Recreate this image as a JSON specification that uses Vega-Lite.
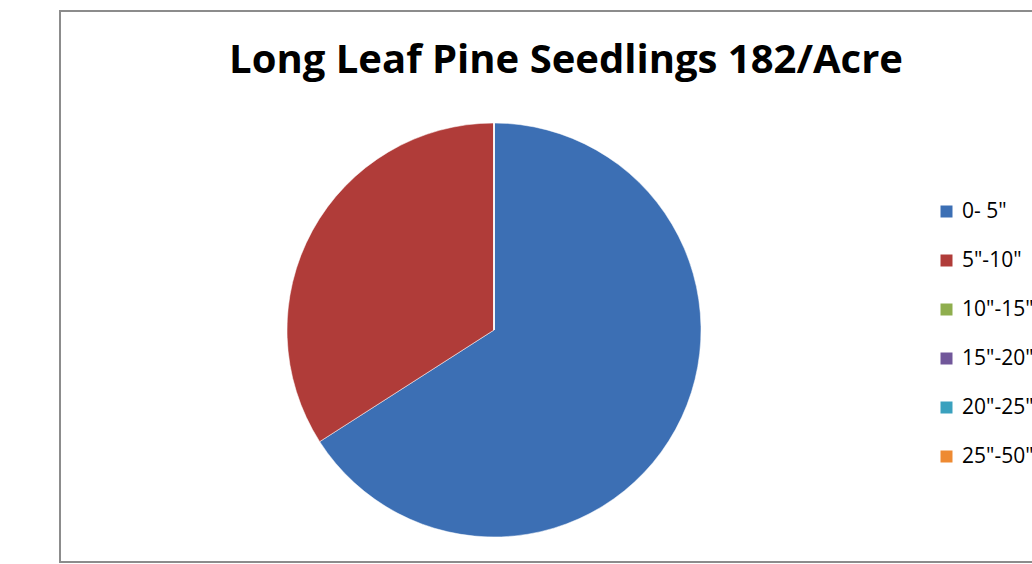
{
  "$schema": "https://vega.github.io/schema/vega-lite/v6.json",
  "autosize": {"type": "none"},
  "padding": {"left": 60, "top": 11, "right": 104, "bottom": 0},
  "width": 868,
  "height": 638,
  "background": "#ffffff",
  "config": {"view": {"stroke": null}},
  "title": {
    "text": "Long Leaf Pine Seedlings 182/Acre",
    "font": "Open Sans",
    "fontWeight": "bold",
    "fontSize": 40,
    "color": "#000000",
    "anchor": "middle",
    "baseline": "alphabetic",
    "offset": 0,
    "dx": 72,
    "dy": 103
  },
  "layer": [
    {
      "data": {"values": [{}]},
      "mark": {"type": "rect", "x": 0, "y": 0, "x2": 1100, "y2": 551, "fill": null, "stroke": "#8c8c8c", "strokeWidth": 2, "clip": false},
      "encoding": {}
    },
    {
      "data": {
        "values": [
          {"size": "0- 5\"", "count": 120, "idx": 1},
          {"size": "5\"-10\"", "count": 62, "idx": 2},
          {"size": "10\"-15\"", "count": 0, "idx": 3},
          {"size": "15\"-20\"", "count": 0, "idx": 4},
          {"size": "20\"-25\"", "count": 0, "idx": 5},
          {"size": "25\"-50\"", "count": 0, "idx": 6}
        ]
      },
      "mark": {"type": "arc", "outerRadius": 207, "stroke": "#ffffff", "strokeWidth": 0.5},
      "encoding": {
        "theta": {"field": "count", "type": "quantitative", "stack": true},
        "order": {"field": "idx", "type": "quantitative"},
        "color": {
          "field": "size",
          "type": "nominal",
          "scale": {
            "domain": ["0- 5\"", "5\"-10\"", "10\"-15\"", "15\"-20\"", "20\"-25\"", "25\"-50\""],
            "range": ["#3c6fb4", "#b03c39", "#8fae4e", "#71579a", "#3aa1be", "#ee8a32"]
          },
          "legend": {
            "title": null,
            "orient": "none",
            "legendX": 876,
            "legendY": 190,
            "padding": 0,
            "symbolType": "square",
            "symbolSize": 144,
            "symbolStrokeWidth": 0,
            "symbolOffset": 0,
            "labelFont": "Open Sans",
            "labelFontSize": 21,
            "labelColor": "#000000",
            "labelOffset": 5,
            "labelLimit": 300,
            "rowPadding": 27
          }
        }
      }
    }
  ]
}
